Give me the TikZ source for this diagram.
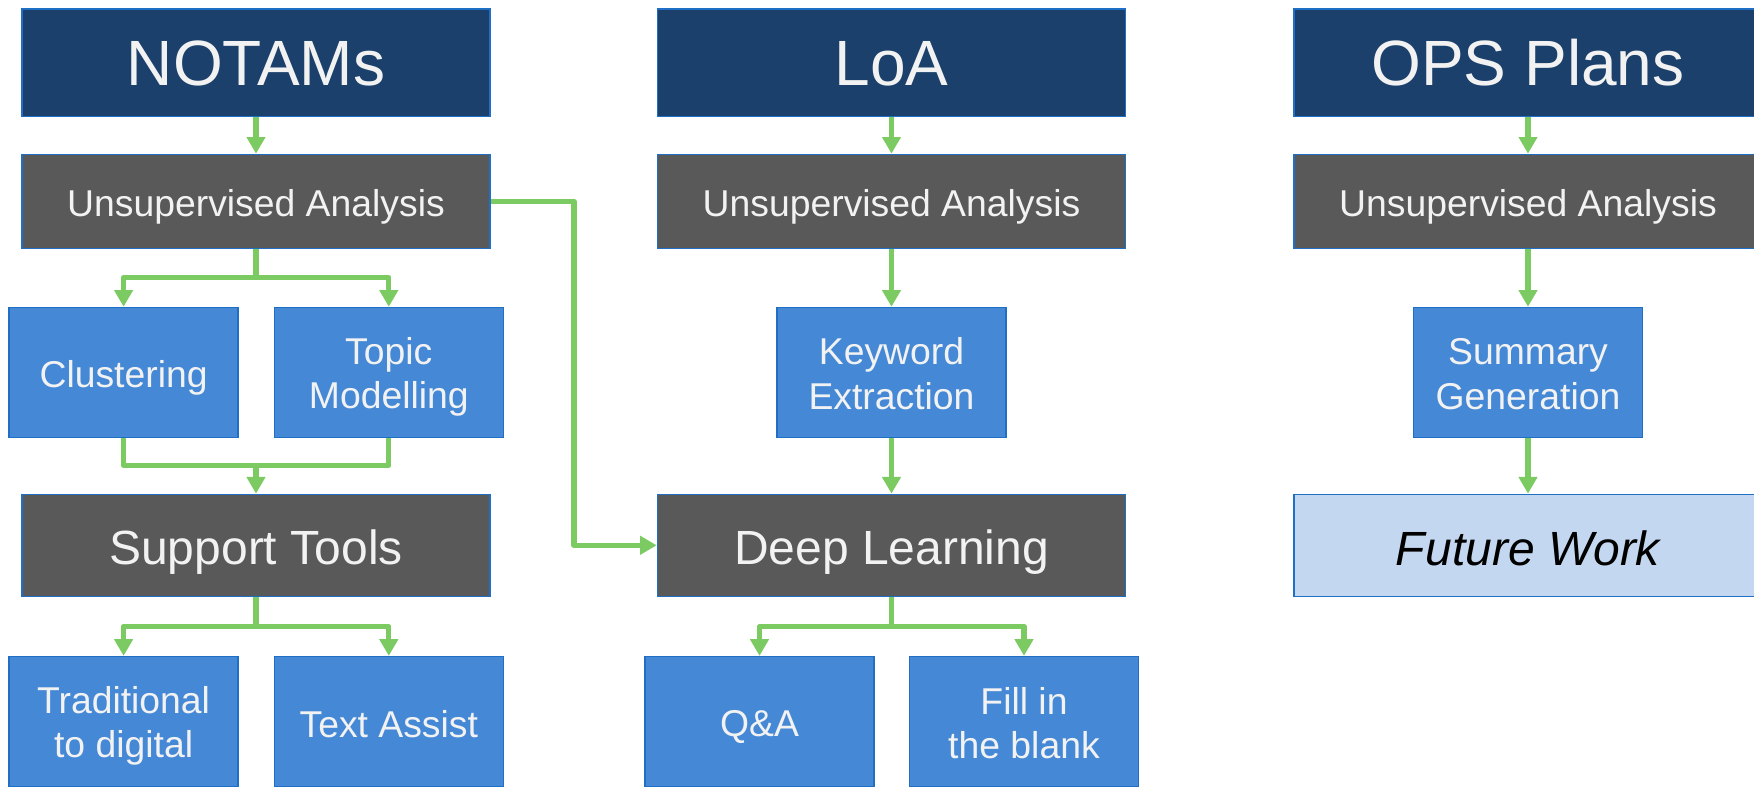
\documentclass[tikz,border=0pt]{standalone}
\usepackage{fontspec}
\setmainfont{Liberation Sans}
\usetikzlibrary{arrows.meta}

\definecolor{navy}{HTML}{1A406B}
\definecolor{slate}{HTML}{595959}
\definecolor{boxblue}{HTML}{4589D6}
\definecolor{edgeblue}{HTML}{1F6FC7}
\definecolor{paleblue}{HTML}{C3D8F0}
\definecolor{flowgreen}{HTML}{7CCB62}
\definecolor{offwhite}{HTML}{F2F2F2}

% struts that centre each text block on its line box
\newcommand{\linetop}{\rule{0pt}{1em}}
\newcommand{\linebot}{\rule[-0.16em]{0pt}{0.16em}}
\newcommand{\firstline}{\rule{0pt}{0.95em}}

\tikzset{
  box/.style={draw=edgeblue, line width=1.1pt, inner sep=0pt, align=center,
    text=offwhite, execute at begin node=\linetop, execute at end node=\linebot},
  titlebox/.style={box, fill=navy, minimum width=351pt, minimum height=80.5pt,
    font=\fontsize{48}{54}\selectfont,
    execute at end node=\rule[-0.28em]{0pt}{0.28em}},
  stagebox/.style={box, fill=slate, minimum width=351pt, minimum height=70.5pt,
    font=\fontsize{28}{32}\selectfont},
  majorbox/.style={box, fill=slate, minimum width=351pt, minimum height=76.4pt,
    font=\fontsize{36}{41}\selectfont},
  taskbox/.style={box, fill=boxblue, minimum width=171.75pt, minimum height=97.5pt,
    font=\fontsize{28}{33.5}\selectfont},
  futurebox/.style={majorbox, fill=paleblue, text=black,
    font=\fontsize{36}{41}\selectfont\itshape},
  link/.style={draw=flowgreen, line width=4pt, line join=round},
  flow/.style={link, -{Triangle[width=13.5pt,length=12.5pt]}},
}

\begin{document}
\begin{tikzpicture}[x=0.75pt, y=-0.75pt]
  \path[use as bounding box] (0,0) rectangle (1754,786);
  \clip (0,0) rectangle (1754,786);

  % column headers
  \node[titlebox] (t1) at (256,62.7)    {NOTAMs};
  \node[titlebox] (t2) at (891.5,62.7)  {LoA};
  \node[titlebox] (t3) at (1528,62.7)   {OPS Plans};

  % first analysis stage
  \node[stagebox] (u1) at (256,201.4)   {Unsupervised Analysis};
  \node[stagebox] (u2) at (891.5,201.4) {Unsupervised Analysis};
  \node[stagebox] (u3) at (1528,201.4)  {Unsupervised Analysis};

  % methods
  \node[taskbox] (clu) at (123.6,372.5) {Clustering};
  \node[taskbox] (tpm) at (388.8,372.5) {\firstline Topic\\Modelling};
  \node[taskbox] (kw)  at (891.5,372.5) {\firstline Keyword\\Extraction};
  \node[taskbox] (sum) at (1528,372.5)  {\firstline Summary\\Generation};

  % second stage
  \node[majorbox]   (st) at (256,545.3)   {Support Tools};
  \node[majorbox]   (dl) at (891.5,545.3) {Deep Learning};
  \node[futurebox]  (fw) at (1528,545.3)  {Future Work};

  % applications
  \node[taskbox] (trad) at (123.6,721.6) {\firstline Traditional\\to digital};
  \node[taskbox] (ta)   at (388.8,721.6) {Text Assist};
  \node[taskbox] (qa)   at (759.5,721.6) {Q\&A};
  \node[taskbox] (fib)  at (1024,721.6)  {\firstline Fill in\\the blank};

  % NOTAMs column
  \draw[flow] (t1.south) -- (u1.north);
  \coordinate (s1) at (256,277.4);
  \draw[link] (u1.south) -- (s1);
  \draw[flow] (s1) -| (clu.north);
  \draw[flow] (s1) -| (tpm.north);
  \coordinate (j1) at (256,465.3);
  \draw[link] (clu.south) |- (tpm.south |- j1) -- (tpm.south);
  \draw[flow] (j1) -- (st.north);
  \coordinate (s2) at (256,626.4);
  \draw[link] (st.south) -- (s2);
  \draw[flow] (s2) -| (trad.north);
  \draw[flow] (s2) -| (ta.north);

  % cross link into deep learning
  \coordinate (c1) at (574,0);
  \draw[flow] (u1.east) -| (c1 |- dl.west) -- (dl.west);

  % LoA column
  \draw[flow] (t2.south) -- (u2.north);
  \draw[flow] (u2.south) -- (kw.north);
  \draw[flow] (kw.south) -- (dl.north);
  \coordinate (s3) at (891.5,626.4);
  \draw[link] (dl.south) -- (s3);
  \draw[flow] (s3) -| (qa.north);
  \draw[flow] (s3) -| (fib.north);

  % OPS Plans column
  \draw[flow] (t3.south) -- (u3.north);
  \draw[flow] (u3.south) -- (sum.north);
  \draw[flow] (sum.south) -- (fw.north);
\end{tikzpicture}
\end{document}
